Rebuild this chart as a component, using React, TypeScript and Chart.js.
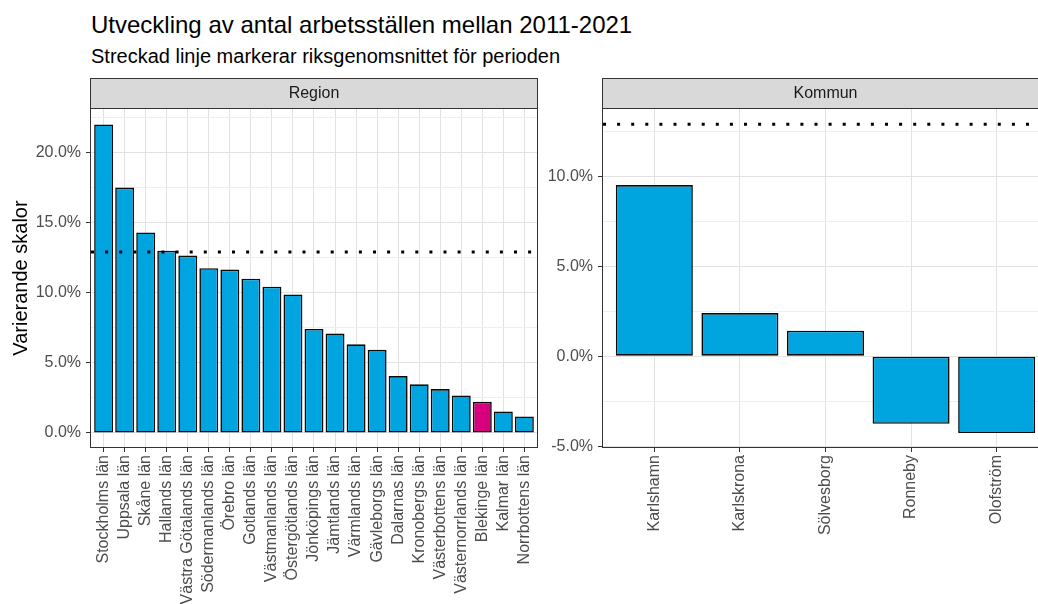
import React, { useEffect, useRef } from "react";
import { Chart, registerables } from "chart.js";

Chart.register(...registerables);

const TITLE = "Utveckling av antal arbetsställen mellan 2011-2021";
const SUBTITLE = "Streckad linje markerar riksgenomsnittet för perioden";
const Y_TITLE = "Varierande skalor";
const STRIP_LEFT = "Region";
const STRIP_RIGHT = "Kommun";

const REGIONS = [
  "Stockholms län",
  "Uppsala län",
  "Skåne län",
  "Hallands län",
  "Västra Götalands län",
  "Södermanlands län",
  "Örebro län",
  "Gotlands län",
  "Västmanlands län",
  "Östergötlands län",
  "Jönköpings län",
  "Jämtlands län",
  "Värmlands län",
  "Gävleborgs län",
  "Dalarnas län",
  "Kronobergs län",
  "Västerbottens län",
  "Västernorrlands län",
  "Blekinge län",
  "Kalmar län",
  "Norrbottens län",
];
const REGION_VALUES = [
  22.0, 17.5, 14.3, 13.0, 12.65, 11.75, 11.65, 11.0, 10.43, 9.88, 7.42, 7.1,
  6.32, 5.93, 4.06, 3.47, 3.13, 2.68, 2.22, 1.54, 1.18,
];

const KOMMUNER = ["Karlshamn", "Karlskrona", "Sölvesborg", "Ronneby", "Olofström"];
const KOMMUN_VALUES = [9.52, 2.4, 1.42, -3.76, -4.27];

const HIGHLIGHT = "Blekinge län";
const NATIONAL_AVERAGE = 12.9;

const REGION_MAJOR_TICKS = [0, 5, 10, 15, 20];
const REGION_MINOR_TICKS = [2.5, 7.5, 12.5, 17.5, 22.5];
const KOMMUN_MAJOR_TICKS = [-5, 0, 5, 10];
const KOMMUN_MINOR_TICKS = [-2.5, 2.5, 7.5, 12.5];

const REGION_Y_RANGE = [-1.0, 23.1];
const KOMMUN_Y_RANGE = [-5.05, 13.75];

const FONT = "'Liberation Sans', Arial, Helvetica, sans-serif";
const BLUE = "#00A5E0";
const MAGENTA = "#D6007E";
const GRID = "#E2E2E2";
const GRID_MINOR = "#EEEEEE";
const DARK = "#333333";
const TICK_TEXT = "#4D4D4D";
const NONE = "rgba(0,0,0,0)";

Chart.defaults.font.family = FONT;

function panelPlugin(strip: string) {
  return {
    id: "panel",
    beforeDraw(chart: any) {
      const { ctx, chartArea: a } = chart;
      ctx.save();
      ctx.fillStyle = "#D9D9D9";
      ctx.fillRect(a.left, 0, a.right - a.left, a.top);
      ctx.strokeStyle = DARK;
      ctx.lineWidth = 1;
      ctx.strokeRect(a.left - 0.5, 0.5, a.right - a.left + 1, a.top - 1);
      ctx.fillStyle = "#1A1A1A";
      ctx.font = `16px ${FONT}`;
      ctx.textAlign = "center";
      ctx.textBaseline = "middle";
      ctx.fillText(strip, (a.left + a.right) / 2, a.top / 2 + 0.5);
      ctx.restore();
    },
    afterDatasetsDraw(chart: any) {
      const { ctx, chartArea: a } = chart;
      const y = chart.scales.y.getPixelForValue(NATIONAL_AVERAGE);
      ctx.save();
      ctx.beginPath();
      ctx.rect(a.left, a.top, a.right - a.left, a.bottom - a.top);
      ctx.clip();
      ctx.strokeStyle = "#000000";
      ctx.lineWidth = 3;
      ctx.lineCap = "butt";
      ctx.setLineDash([3, 11.1]);
      ctx.beginPath();
      ctx.moveTo(a.left, y);
      ctx.lineTo(a.right, y);
      ctx.stroke();
      ctx.restore();
    },
    afterDraw(chart: any) {
      const { ctx, chartArea: a } = chart;
      ctx.save();
      ctx.strokeStyle = DARK;
      ctx.lineWidth = 1;
      ctx.strokeRect(a.left - 0.5, a.top - 0.5, a.right - a.left + 1, a.bottom - a.top + 1);
      ctx.restore();
    },
  };
}

function makeConfig(
  labels: string[],
  values: number[],
  yRange: number[],
  major: number[],
  minor: number[],
  strip: string,
  showTitle: boolean,
  yWidth: number,
  padRight: number
): any {
  const allTicks = [...major, ...minor].sort((a, b) => a - b);
  const isMajor = (v: any) => major.some((m) => Math.abs(m - v) < 1e-9);
  const isCategory = (v: any) =>
    typeof v === "number" && Math.abs(v - Math.round(v)) < 1e-9 && v >= 0 && v < labels.length;
  return {
    type: "bar",
    data: {
      datasets: [
        {
          data: labels.map((_, i) => ({ x: i, y: values[i] })),
          backgroundColor: labels.map((l) => (l === HIGHLIGHT ? MAGENTA : BLUE)),
          borderColor: "#0A0A0A",
          borderWidth: 1.6,
          borderSkipped: false,
          barPercentage: 0.9,
          categoryPercentage: 1,
        },
      ],
    },
    options: {
      responsive: false,
      animation: false,
      layout: { padding: { top: 31, right: padRight, left: 0, bottom: 0 } },
      plugins: {
        legend: { display: false },
        tooltip: { enabled: false },
        title: { display: false },
      },
      scales: {
        x: {
          type: "linear",
          bounds: "data",
          min: -0.6,
          max: labels.length - 0.4,
          offset: false,
          afterBuildTicks: (s: any) => {
            s.ticks = labels.map((_, i) => ({ value: i }));
          },
          afterFit: (s: any) => {
            s.height = 157;
          },
          ticks: {
            autoSkip: false,
            minRotation: 90,
            maxRotation: 90,
            padding: 3,
            color: TICK_TEXT,
            font: { size: 16 },
            callback: (v: any) => (isCategory(v) ? labels[Math.round(v)] : ""),
          },
          grid: {
            offset: false,
            color: (c: any) => (c.tick && isCategory(c.tick.value) ? GRID : NONE),
            lineWidth: 1,
            tickColor: (c: any) => (c.tick && isCategory(c.tick.value) ? DARK : NONE),
            tickLength: 5,
            drawTicks: true,
          },
          border: { display: false },
        },
        y: {
          type: "linear",
          bounds: "data",
          min: yRange[0],
          max: yRange[1],
          afterBuildTicks: (s: any) => {
            s.ticks = allTicks.map((v) => ({ value: v }));
          },
          afterFit: (s: any) => {
            s.width = yWidth;
          },
          ticks: {
            padding: 5,
            color: TICK_TEXT,
            font: { size: 16 },
            callback: (v: any) => (isMajor(v) ? `${Number(v).toFixed(1)}%` : ""),
          },
          grid: {
            offset: false,
            color: (c: any) => {
              if (!c.tick) return NONE;
              if (isMajor(c.tick.value)) return GRID;
              if (minor.some((m) => Math.abs(m - c.tick.value) < 1e-9)) return GRID_MINOR;
              return NONE;
            },
            lineWidth: 1,
            tickColor: (c: any) => (c.tick && isMajor(c.tick.value) ? DARK : NONE),
            tickLength: 5,
            drawTicks: true,
          },
          border: { display: false },
          title: {
            display: showTitle,
            text: Y_TITLE,
            color: "#000000",
            font: { size: 20 },
            padding: { top: 9, bottom: 0 },
          },
        },
      },
    },
    plugins: [panelPlugin(strip)],
  };
}

export default function App() {
  const leftRef = useRef<HTMLCanvasElement>(null);
  const rightRef = useRef<HTMLCanvasElement>(null);

  useEffect(() => {
    const left = new Chart(
      leftRef.current as HTMLCanvasElement,
      makeConfig(
        REGIONS,
        REGION_VALUES,
        REGION_Y_RANGE,
        REGION_MAJOR_TICKS,
        REGION_MINOR_TICKS,
        STRIP_LEFT,
        true,
        91,
        23
      )
    );
    const right = new Chart(
      rightRef.current as HTMLCanvasElement,
      makeConfig(
        KOMMUNER,
        KOMMUN_VALUES,
        KOMMUN_Y_RANGE,
        KOMMUN_MAJOR_TICKS,
        KOMMUN_MINOR_TICKS,
        STRIP_RIGHT,
        false,
        63,
        0
      )
    );
    return () => {
      left.destroy();
      right.destroy();
    };
  }, []);

  return (
    <div
      style={{
        position: "absolute",
        left: 0,
        top: 0,
        width: 1038,
        height: 604,
        overflow: "hidden",
        background: "#ffffff",
        fontFamily: FONT,
      }}
    >
      <div
        style={{
          position: "absolute",
          left: 91,
          top: 13,
          fontSize: 24,
          lineHeight: "24px",
          color: "#000000",
          whiteSpace: "nowrap",
        }}
      >
        {TITLE}
      </div>
      <div
        style={{
          position: "absolute",
          left: 91,
          top: 46,
          fontSize: 20,
          lineHeight: "20px",
          color: "#000000",
          whiteSpace: "nowrap",
        }}
      >
        {SUBTITLE}
      </div>
      <canvas
        ref={leftRef}
        width={560}
        height={526}
        style={{ position: "absolute", left: 0, top: 78, width: 560, height: 526 }}
      />
      <canvas
        ref={rightRef}
        width={508}
        height={526}
        style={{ position: "absolute", left: 540, top: 78, width: 508, height: 526 }}
      />
    </div>
  );
}
